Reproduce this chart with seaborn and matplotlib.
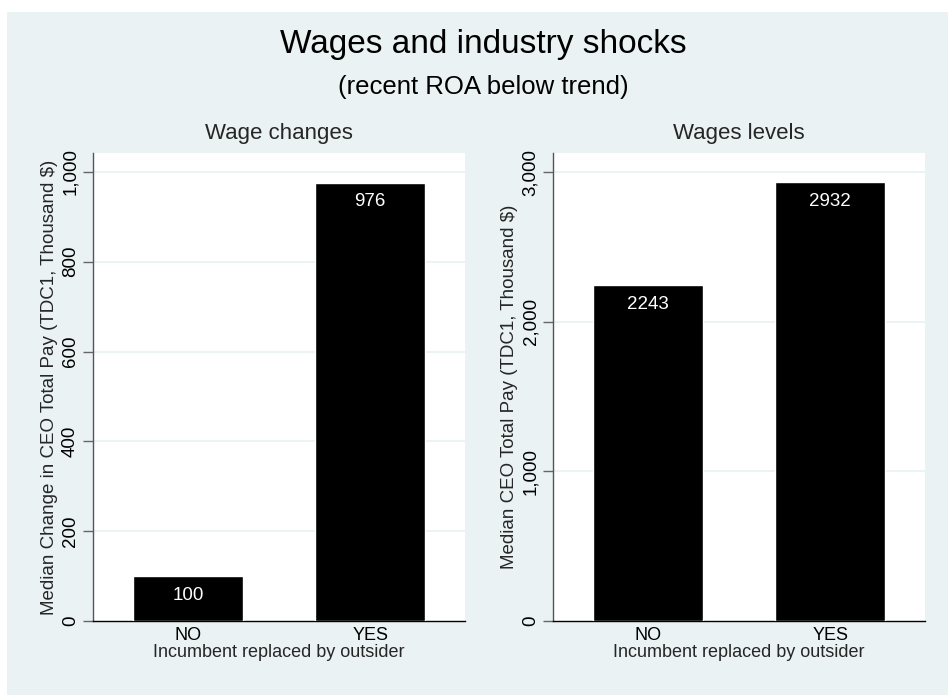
import matplotlib
matplotlib.use("Agg")
import matplotlib.pyplot as plt
import matplotlib.patches as mpatches
import seaborn as sns
import pandas as pd

# data
categories = ["NO", "YES"]
wage_changes = [100, 976]
wage_levels = [2243, 2932]
bar_labels_changes = ["100", "976"]
bar_labels_levels = ["2243", "2932"]
yticks_changes = [0, 200, 400, 600, 800, 1000]
yticks_levels = [0, 1000, 2000, 3000]

BG = "#EAF2F3"

sns.set_theme(style="white")
plt.rcParams["font.family"] = ["Liberation Sans", "DejaVu Sans"]

W, H = 948, 695
fig = plt.figure(figsize=(W / 100, H / 100), dpi=100, facecolor="white")

# stata-style outer background (image is cropped, white strip top/left)
fig.patches.append(mpatches.Rectangle((7 / W, 0), 1, 1 - 12 / H,
                                      transform=fig.transFigure,
                                      facecolor=BG, edgecolor="none", zorder=-1))

fig.text(483 / W, 1 - 45 / H, "Wages and industry shocks", ha="center", va="center",
         fontsize=24, color="black")
fig.text(483 / W, 1 - 87 / H, "(recent ROA below trend)", ha="center", va="center",
         fontsize=18.5, color="black")


def panel(left_px, values, labels, yticks, ymax, title, ylabel):
    ax = fig.add_axes([left_px / W, (H - 621) / H, 372 / W, 468 / H])
    df = pd.DataFrame({"cat": categories, "val": values})
    sns.barplot(data=df, x="cat", y="val", ax=ax, color="black", saturation=1,
                width=0.6, zorder=3)
    ax.bar_label(ax.containers[0], labels=labels, padding=-20, color="white",
                 fontsize=13.5, zorder=4)
    ax.set_xlim(-0.52, 1.52)
    ax.set_ylim(0, ymax)
    ax.set_yticks(yticks)
    ax.set_yticklabels([f"{t:,}" for t in yticks], rotation=90, va="center",
                       fontsize=13.5)
    ax.set_facecolor("white")
    for t in yticks[1:]:
        ax.axhline(t, color=BG, lw=1.3, zorder=1)
    for s in ["top", "right"]:
        ax.spines[s].set_visible(False)
    ax.spines["left"].set_color("#555555")
    ax.spines["left"].set_linewidth(1.0)
    ax.spines["bottom"].set_color("black")
    ax.spines["bottom"].set_linewidth(1.0)
    ax.tick_params(axis="y", length=7, width=1, color="#666666", pad=3,
                   left=True, labelcolor="black")
    ax.tick_params(axis="x", length=0, pad=4, labelsize=13, labelcolor="black")
    ax.set_xlabel("Incumbent replaced by outsider", fontsize=13, labelpad=0)
    ax.set_ylabel(ylabel, fontsize=13.5, labelpad=3)
    ax.set_title(title, fontsize=16, pad=10)
    return ax


panel(93, wage_changes, bar_labels_changes, yticks_changes, 1042,
      "Wage changes", "Median Change in CEO Total Pay (TDC1, Thousand $)")
panel(553, wage_levels, bar_labels_levels, yticks_levels, 3127,
      "Wages levels", "Median CEO Total Pay (TDC1, Thousand $)")

fig.savefig("out.png", dpi=100, facecolor="white")
